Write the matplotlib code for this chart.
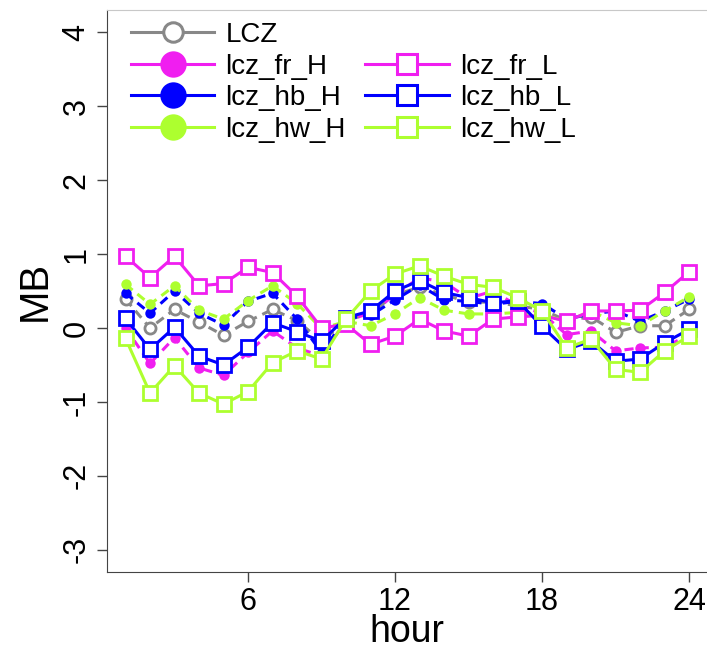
import numpy as np
import matplotlib.pyplot as plt
from matplotlib.lines import Line2D

plt.rcParams['font.family'] = ['Liberation Sans', 'DejaVu Sans']
plt.rcParams['axes.unicode_minus'] = False

hours = list(range(1, 25))

lcz = [0.39, 0.0, 0.25, 0.08, -0.1, 0.09, 0.25, 0.1, -0.18, 0.1, 0.2, 0.45,
       0.55, 0.45, 0.35, 0.35, 0.3, 0.25, 0.1, 0.15, -0.06, 0.03, 0.03, 0.25]
lcz_fr_H = [0.0, -0.48, -0.13, -0.54, -0.64, -0.33, -0.04, -0.27, -0.38, 0.1, 0.2, 0.45,
            0.68, 0.62, 0.4, 0.5, 0.3, 0.2, -0.09, -0.04, -0.31, -0.27, -0.26, -0.09]
lcz_hb_H = [0.47, 0.2, 0.5, 0.2, 0.04, 0.36, 0.47, 0.12, -0.33, 0.13, 0.17, 0.38,
            0.58, 0.38, 0.36, 0.32, 0.36, 0.33, 0.12, 0.19, 0.23, 0.09, 0.23, 0.39]
lcz_hw_H = [0.59, 0.32, 0.57, 0.24, 0.12, 0.37, 0.57, 0.33, -0.01, 0.09, 0.03, 0.19,
            0.41, 0.24, 0.19, 0.19, 0.21, 0.18, 0.09, 0.23, 0.07, 0.03, 0.23, 0.42]
lcz_fr_L = [0.97, 0.68, 0.97, 0.57, 0.6, 0.82, 0.75, 0.43, 0.0, 0.05, -0.22, -0.11,
            0.12, -0.04, -0.11, 0.12, 0.15, 0.17, 0.09, 0.23, 0.23, 0.24, 0.48, 0.76]
lcz_hb_L = [0.13, -0.29, 0.01, -0.38, -0.5, -0.26, 0.07, -0.05, -0.18, 0.14, 0.23, 0.5,
            0.64, 0.48, 0.41, 0.34, 0.37, 0.02, -0.29, -0.18, -0.45, -0.42, -0.2, -0.02]
lcz_hw_L = [-0.14, -0.88, -0.51, -0.88, -1.03, -0.86, -0.47, -0.31, -0.42, 0.12, 0.5, 0.73,
            0.84, 0.7, 0.59, 0.55, 0.41, 0.23, -0.27, -0.15, -0.56, -0.6, -0.31, -0.11]

gray = '#888888'
mag = '#F01EF0'
blue = '#0000FF'
green = '#ADFF2F'
dash = (0, (3, 2))

fig = plt.figure(figsize=(7.07, 6.55), dpi=100)
ax = fig.add_axes([107/707, 83/655, 600/707, 562/655])

ax.plot(hours, lcz, color=gray, ls=dash, lw=2.2, marker='o', ms=8, mfc='white', mew=2, mec=gray)
ax.plot(hours, lcz_fr_H, color=mag, ls=dash, lw=2.2, marker='o', ms=7.5, mec='none')
ax.plot(hours, lcz_hb_H, color=blue, ls=dash, lw=2.2, marker='o', ms=7.5, mec='none')
ax.plot(hours, lcz_hw_H, color=green, ls=dash, lw=2.2, marker='o', ms=7.5, mec='none')
ax.plot(hours, lcz_fr_L, color=mag, lw=2.2, marker='s', ms=10, mfc='white', mew=2, mec=mag)
ax.plot(hours, lcz_hb_L, color=blue, lw=2.2, marker='s', ms=10, mfc='white', mew=2, mec=blue)
ax.plot(hours, lcz_hw_L, color=green, lw=2.2, marker='s', ms=10, mfc='white', mew=2, mec=green)

ax.set_xlim(0.245, 24.73)
ax.set_ylim(-3.3, 4.3)
ax.set_xticks([6, 12, 18, 24])
ax.set_yticks([-3, -2, -1, 0, 1, 2, 3, 4])
ax.tick_params(labelsize=22, length=7, width=1, color='#444444', pad=4)
for lab in ax.get_yticklabels():
    lab.set_rotation(90)
    lab.set_va('center')
ax.spines['right'].set_visible(False)
ax.spines['top'].set_color('#c8c8c8')
ax.spines['left'].set_color('#444444')
ax.spines['bottom'].set_color('#444444')
ax.set_xlabel('hour', fontsize=27, labelpad=-2)
ax.set_ylabel('MB', fontsize=29, labelpad=6)

handles = [
    Line2D([], [], color=gray, lw=2.2, marker='o', ms=14, mfc='white', mew=2.2, mec=gray),
    Line2D([], [], color=mag, lw=2.2, marker='o', ms=19, mec='none'),
    Line2D([], [], color=blue, lw=2.2, marker='o', ms=19, mec='none'),
    Line2D([], [], color=green, lw=2.2, marker='o', ms=19, mec='none'),
    Line2D([], [], color='none'),
    Line2D([], [], color=mag, lw=2.2, marker='s', ms=14, mfc='white', mew=2.2, mec=mag),
    Line2D([], [], color=blue, lw=2.2, marker='s', ms=14, mfc='white', mew=2.2, mec=blue),
    Line2D([], [], color=green, lw=2.2, marker='s', ms=14, mfc='white', mew=2.2, mec=green),
]
labels = ['LCZ', 'lcz_fr_H', 'lcz_hb_H', 'lcz_hw_H', '', 'lcz_fr_L', 'lcz_hb_L', 'lcz_hw_L']
fig.legend(handles, labels, loc='upper left', bbox_to_anchor=(131/707, 1 - 22/655),
           ncol=2, frameon=False, fontsize=20, handlelength=3.0, handletextpad=0.4,
           columnspacing=0.7, labelspacing=0.2, borderpad=0, borderaxespad=0,
           markerscale=1)

plt.savefig('out.png', dpi=100)
